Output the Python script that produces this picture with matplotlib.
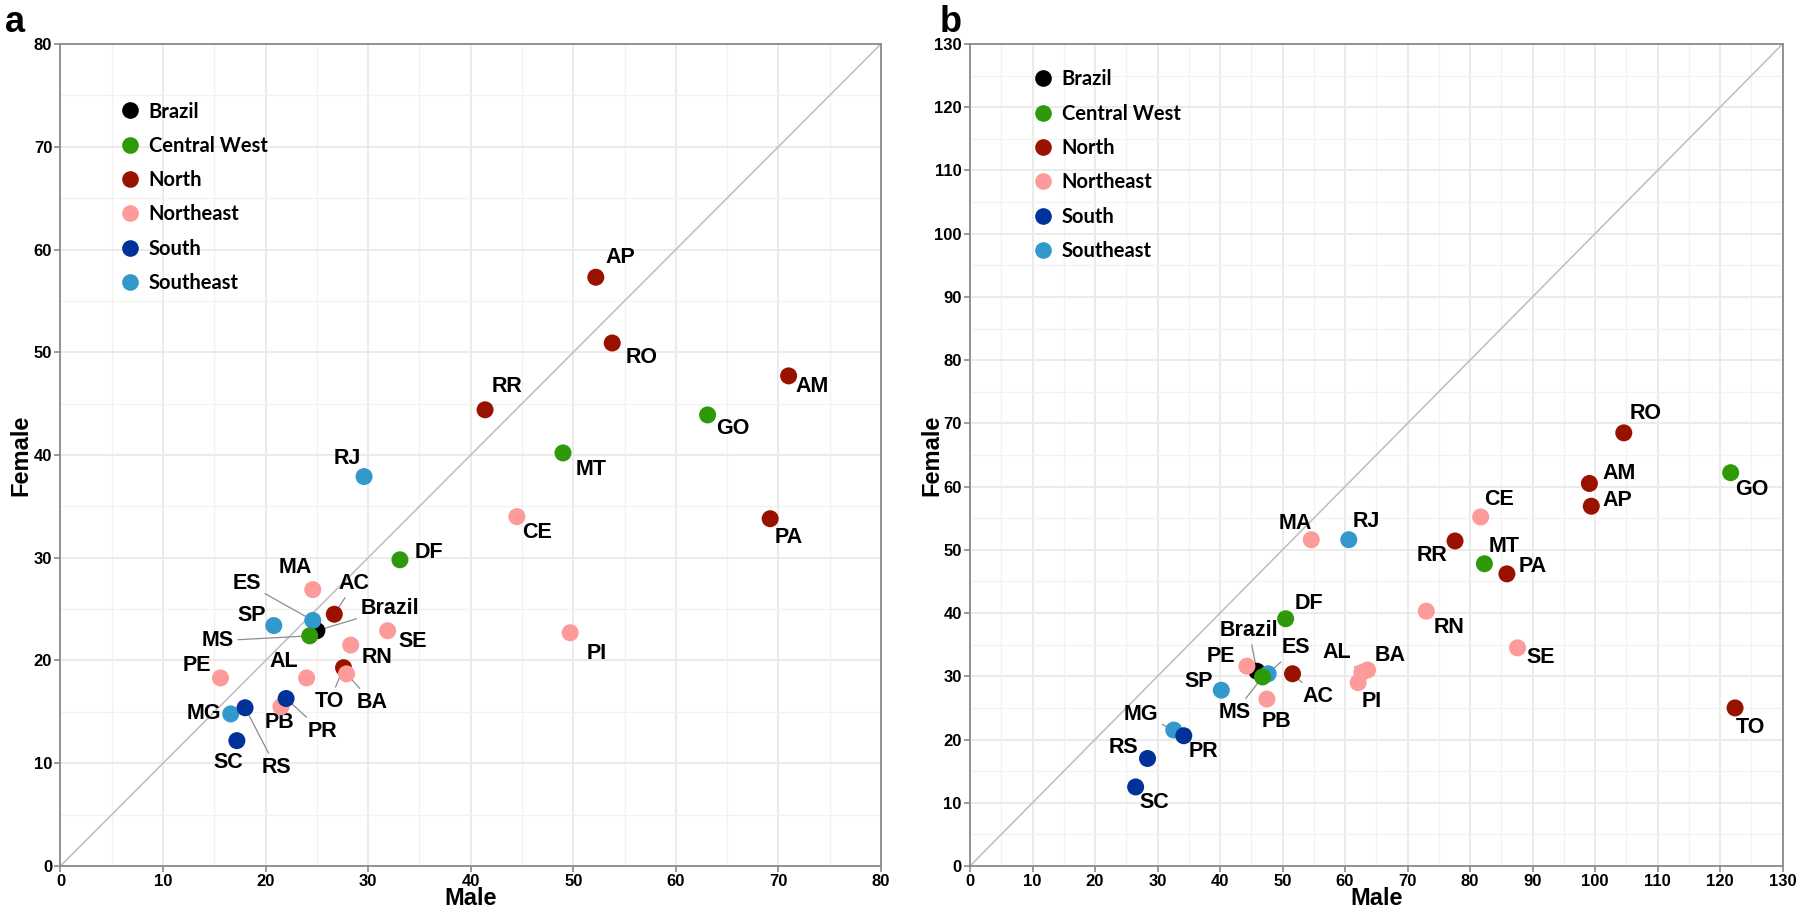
import numpy as np
import matplotlib
matplotlib.use("Agg")
import matplotlib.pyplot as plt
from matplotlib.lines import Line2D

# states in IBGE code order (draw order), Brazil first
states = ["Brazil", "RO", "AC", "AM", "RR", "PA", "AP", "TO",
          "MA", "PI", "CE", "RN", "PB", "PE", "AL", "SE", "BA",
          "MG", "ES", "RJ", "SP", "PR", "SC", "RS",
          "MS", "MT", "GO", "DF"]
regions = ["Brazil", "North", "North", "North", "North", "North", "North", "North",
           "Northeast", "Northeast", "Northeast", "Northeast", "Northeast", "Northeast",
           "Northeast", "Northeast", "Northeast",
           "Southeast", "Southeast", "Southeast", "Southeast", "South", "South", "South",
           "Central West", "Central West", "Central West", "Central West"]

# panel a
male_a = [25.0, 53.8, 26.7, 71.0, 41.4, 69.2, 52.2, 27.6,
          24.6, 49.7, 44.5, 28.3, 21.5, 15.6, 24.0, 31.9, 27.9,
          16.6, 24.6, 29.6, 20.8, 22.0, 17.2, 18.0,
          24.3, 49.0, 63.1, 33.1]
female_a = [22.9, 50.9, 24.5, 47.7, 44.4, 33.8, 57.3, 19.3,
            26.9, 22.7, 34.0, 21.5, 15.5, 18.3, 18.3, 22.9, 18.7,
            14.8, 23.9, 37.9, 23.4, 16.3, 12.2, 15.4,
            22.4, 40.2, 43.9, 29.8]

# panel b
male_b = [45.9, 104.6, 51.6, 99.1, 77.6, 85.9, 99.4, 122.4,
          54.6, 62.1, 81.7, 73.0, 47.5, 44.3, 62.7, 87.6, 63.6,
          32.6, 47.7, 60.6, 40.2, 34.2, 26.5, 28.4,
          46.8, 82.3, 121.7, 50.5]
female_b = [30.8, 68.5, 30.4, 60.5, 51.4, 46.2, 56.9, 25.0,
            51.6, 29.0, 55.2, 40.3, 26.4, 31.6, 30.6, 34.5, 31.0,
            21.5, 30.4, 51.6, 27.8, 20.6, 12.5, 17.0,
            29.9, 47.8, 62.2, 39.1]

region_names = ["Brazil", "Central West", "North", "Northeast", "South", "Southeast"]
region_colors = {"Brazil": "#000000", "Central West": "#2e9a0a", "North": "#991200",
                 "Northeast": "#fd9a9a", "South": "#00329a", "Southeast": "#3399cc"}

# label offsets (pixels, text centre relative to point) and which get a segment
offsets_a = {"Brazil": (73, -22), "RO": (29, 15), "AC": (20, -31), "AM": (24, 11),
             "RR": (22, -23), "PA": (19, 19), "AP": (25, -20), "TO": (-14, 34),
             "MA": (-17, -22), "PI": (27, 21), "CE": (20, 16), "RN": (26, 12),
             "PB": (-1, 16), "PE": (-24, -12), "AL": (-23, -16), "SE": (25, 11),
             "BA": (26, 29), "MG": (-27, 0), "ES": (-66, -37), "RJ": (-17, -18),
             "SP": (-22, -10), "PR": (36, 33), "SC": (-9, 22), "RS": (31, 60),
             "MS": (-92, 5), "MT": (28, 17), "GO": (25, 14), "DF": (29, -7)}
segs_a = {"Brazil", "AC", "TO", "AL", "BA", "ES", "PR", "RS", "MS"}

offsets_b = {"Brazil": (-8, -41), "RO": (22, -19), "AC": (25, 23), "AM": (30, -10),
             "RR": (-23, 15), "PA": (26, -7), "AP": (26, -6), "TO": (15, 20),
             "MA": (-16, -16), "PI": (14, 19), "CE": (18, -17), "RN": (23, 16),
             "PB": (10, 22), "PE": (-26, -10), "AL": (-25, -20), "SE": (23, 10),
             "BA": (23, -14), "MG": (-33, -16), "ES": (28, -26), "RJ": (17, -18),
             "SP": (-23, -9), "PR": (20, 16), "SC": (19, 16), "RS": (-24, -11),
             "MS": (-28, 36), "MT": (20, -17), "GO": (21, 17), "DF": (23, -15)}
segs_b = {"Brazil", "AC", "AL", "ES", "MS", "MG"}

LBL = ["Liberation Sans", "DejaVu Sans"]

fig = plt.figure(figsize=(18, 9.13), dpi=100)
ax_a = fig.add_axes([0.0336, 0.0515, 0.4558, 0.9003])
ax_b = fig.add_axes([0.5389, 0.0515, 0.4514, 0.9003])


def draw_panel(ax, male, female, offsets, segs, lim, leg_anchor, ylab_x):
    ax.set_xlim(0, lim)
    ax.set_ylim(0, lim)
    ax.set_xticks(np.arange(0, lim + 1, 10))
    ax.set_yticks(np.arange(0, lim + 1, 10))
    ax.set_xticks(np.arange(5, lim, 10), minor=True)
    ax.set_yticks(np.arange(5, lim, 10), minor=True)
    ax.grid(which="major", color="#ebebeb", lw=1.4, zorder=0)
    ax.grid(which="minor", color="#f2f2f2", lw=0.9, zorder=0)
    ax.set_axisbelow(True)
    for s in ax.spines.values():
        s.set_color("#8a8a8a")
        s.set_linewidth(1.3)
    ax.tick_params(which="major", length=4, width=1.2, color="#8a8a8a", pad=2)
    ax.tick_params(which="minor", length=0)
    for t in ax.get_xticklabels() + ax.get_yticklabels():
        t.set_fontfamily(LBL)
        t.set_fontweight("bold")
        t.set_fontsize(12)

    ax.plot([0, lim], [0, lim], color="#bdbdbd", lw=1.1, zorder=1)

    for i, st in enumerate(states):
        ax.scatter(male[i], female[i], s=150, color=region_colors[regions[i]],
                   edgecolors="none", zorder=3 + i * 0.01)

    for i, st in enumerate(states):
        dx, dy = offsets[st]
        kw = {}
        if st in segs:
            kw["arrowprops"] = dict(arrowstyle="-", color="#8c8c8c", lw=0.9,
                                    shrinkA=1, shrinkB=0)
        ax.annotate(st, (male[i], female[i]), xytext=(dx, -dy),
                    textcoords="offset pixels", ha="center", va="center",
                    fontfamily=LBL, fontweight="bold", fontsize=15.5,
                    zorder=2, **kw)

    handles = [Line2D([], [], marker="o", ls="none", markersize=12,
                      markerfacecolor=region_colors[r], markeredgecolor="none")
               for r in region_names]
    ax.legend(handles, region_names, loc="upper left", bbox_to_anchor=leg_anchor,
              frameon=False, borderpad=0, borderaxespad=0, handlelength=1.0,
              handletextpad=0.45, labelspacing=0.71,
              prop={"family": "Lato", "weight": "bold", "size": 14.5})

    ax.set_xlabel("Male", fontfamily=LBL, fontweight="bold", fontsize=17, va="center")
    ax.set_ylabel("Female", fontfamily=LBL, fontweight="bold", fontsize=17, va="center")
    ax.xaxis.set_label_coords(0.5, -0.040)
    ax.yaxis.set_label_coords(ylab_x, 0.5)


draw_panel(ax_a, male_a, female_a, offsets_a, segs_a, 80, (0.072, 0.930), -0.048)
draw_panel(ax_b, male_b, female_b, offsets_b, segs_b, 130, (0.077, 0.969), -0.047)

fig.text(0.003, 1 - 32 / 913, "a", fontfamily=LBL, fontweight="bold", fontsize=26, va="baseline")
fig.text(0.522, 1 - 32 / 913, "b", fontfamily=LBL, fontweight="bold", fontsize=26, va="baseline")

fig.savefig("out.png", dpi=100)
